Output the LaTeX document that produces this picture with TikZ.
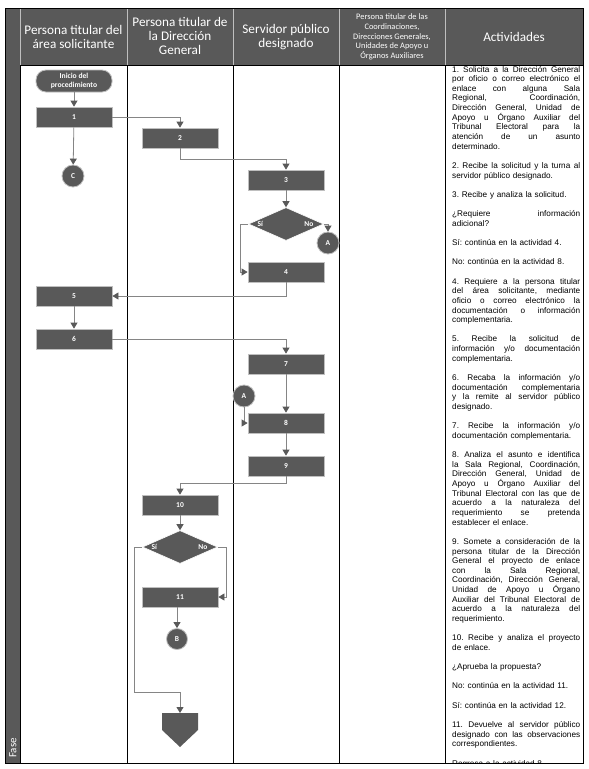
\documentclass[tikz,border=0pt]{standalone}
\usepackage{fontspec}
\setmainfont{Liberation Sans}
\newfontfamily\calfont{Carlito}
\usetikzlibrary{shapes.geometric,arrows.meta,calc}
\definecolor{dg}{HTML}{595959}
\definecolor{lg}{HTML}{BFBFBF}
\definecolor{ln}{HTML}{858585}
\newcommand\J[1]{\leavevmode\hbox to 128pt{\spaceskip=0.278em plus 1fil\xspaceskip=0.278em plus 1fil\relax #1}}
\newcommand\BL{\mbox{}\\}
\frenchspacing
\begin{document}
\begin{tikzpicture}[x=1pt,y=-1pt,
  procbox/.style={draw=lg, fill=dg, line width=0.8pt, minimum width=76pt, minimum height=20pt, inner sep=0pt, text=white, font=\calfont\bfseries\fontsize{7.5}{8}\selectfont},
  startbox/.style={draw=lg, fill=dg, line width=0.8pt, rounded corners=10pt, minimum width=76pt, minimum height=22pt, inner sep=0pt, text=white, align=center, font=\calfont\bfseries\fontsize{7.6}{8.6}\selectfont},
  connbox/.style={circle, draw=lg, fill=dg, line width=0.8pt, minimum size=22pt, inner sep=0pt, text=white, font=\calfont\bfseries\fontsize{7.5}{8}\selectfont},
  decbox/.style={diamond, fill=dg, draw=white, line width=0.6pt, minimum width=75pt, minimum height=33pt, inner sep=0pt},
  declabel/.style={text=white, inner sep=0pt, font=\calfont\bfseries\fontsize{7.5}{8}\selectfont},
  flow/.style={draw=ln, line width=0.8pt, -{Triangle[length=6pt,width=7pt,color=dg]}},
  headtext/.style={text=white, align=center, inner sep=0pt, font=\calfont\fontsize{13.2}{14}\selectfont},
  tablerule/.style={draw=black, line width=0.9pt}
]
\useasboundingbox (0,0) rectangle (589,769);
% table
\fill[dg] (5,8) rectangle (583,65);
\fill[dg] (5,65) rectangle (20,763);
\foreach \xx in {20,127,233,339,445} \draw[lg, line width=0.8pt] (\xx,8) -- (\xx,65);
\draw[tablerule] (20,65) -- (583,65);
\foreach \xx in {20,127,233,339,445} \draw[tablerule] (\xx,65) -- (\xx,763);
\draw[tablerule] (5,8) rectangle (583,763);
% headers
\node[headtext] (h1) at (73.5,37) {Persona titular del\\área solicitante};
\node[headtext] (h2) at (180,36) {Persona titular de\\la Dirección\\General};
\node[headtext] (h3) at (286,37) {Servidor público\\designado};
\node[headtext, font=\calfont\fontsize{8.4}{9.8}\selectfont] (h4) at (392,37) {Persona titular de las\\Coordinaciones,\\Direcciones Generales,\\Unidades de Apoyo u\\Órganos Auxiliares};
\node[headtext] (h5) at (514,37) {Actividades};
\node[text=white, rotate=90, inner sep=0pt, font=\calfont\fontsize{11}{12}\selectfont] (fase) at (13,748) {Fase};
% flow nodes
\node[startbox] (st) at (74,81) {Inicio del\\procedimiento};
\node[procbox] (b1) at (74,117) {1};
\node[procbox] (b2) at (180,138) {2};
\node[connbox] (C) at (73,176) {C};
\node[procbox] (b3) at (286,180) {3};
\node[decbox] (d1) at (286,224) {};
\node[declabel] (d1si) at ($(d1.west)+(12,0)$) {Sí};
\node[declabel] (d1no) at ($(d1.east)+(-15,0)$) {No};
\node[connbox] (A1) at (328,243) {A};
\node[procbox] (b4) at (286,272) {4};
\node[procbox] (b5) at (74,296) {5};
\node[procbox] (b6) at (74,339) {6};
\node[procbox] (b7) at (286,364) {7};
\node[connbox] (A2) at (244,396) {A};
\node[procbox] (b8) at (286,423) {8};
\node[procbox] (b9) at (286,466) {9};
\node[procbox] (b10) at (180,505) {10};
\node[decbox] (d2) at (180,547) {};
\node[declabel] (d2si) at ($(d2.west)+(12,0)$) {Sí};
\node[declabel] (d2no) at ($(d2.east)+(-15,0)$) {No};
\node[procbox] (b11) at (180,597) {11};
\node[connbox, minimum size=21pt] (B) at (177,639) {B};
\coordinate (off) at (180,713);
\fill[dg] (off) ++(-18,0) -- ++(36,0) -- ++(0,17) -- ++(-18,17) -- ++(-18,-17) -- cycle;
% connectors
\draw[flow] (st) -- (b1);
\draw[flow] (b1.east) -| (b2.north);
\draw[flow] (b1) -- (C);
\draw[flow] (b2.south) -- ++(0,11) -| (b3.north);
\draw[flow] (b3) -- (d1);
\draw[flow] (d1.west) -- ++(-8,0) |- (b4.west);
\draw[flow] (d1.east) -| (A1.north);
\draw[flow] (b4.south) |- (b5.east);
\draw[flow] (b5) -- (b6);
\draw[flow] (b6.east) -| (b7.north);
\draw[flow] (b7) -- (b8);
\draw[flow] (A2.south) |- (b8.west);
\draw[flow] (b8) -- (b9);
\draw[flow] (b9.south) -- ++(0,7) -| (b10.north);
\draw[flow] (b10) -- (d2);
\draw[flow] (d2.east) -- ++(9,0) |- (b11.east);
\draw[flow] (B |- b11.south) -- (B);
\draw[flow] (d2.west) -- ++(-8,0) -- ++(0,145) -| (off);
% activities
\begin{scope}
\clip (445,65) rectangle (583,763);
\node[anchor=north west, text width=128pt, align=left, inner sep=0pt, font=\fontsize{8.2}{9.64}\selectfont] (act) at (452,65.8) {%
\J{1. Solicita a la Dirección General}\\
\J{por oficio o correo electrónico el}\\
\J{enlace con alguna Sala}\\
\J{Regional, Coordinación,}\\
\J{Dirección General, Unidad de}\\
\J{Apoyo u Órgano Auxiliar del}\\
\J{Tribunal Electoral para la}\\
\J{atención de un asunto}\\
determinado.\\
\BL
\J{2. Recibe la solicitud y la turna al}\\
servidor público designado.\\
\BL
3. Recibe y analiza la solicitud.\\
\BL
\J{¿Requiere información}\\
adicional?\\
\BL
Sí: continúa en la actividad 4.\\
\BL
No: continúa en la actividad 8.\\
\BL
\J{4. Requiere a la persona titular}\\
\J{del área solicitante, mediante}\\
\J{oficio o correo electrónico la}\\
\J{documentación o información}\\
complementaria.\\
\BL
\J{5. Recibe la solicitud de}\\
\J{información y/o documentación}\\
complementaria.\\
\BL
\J{6. Recaba la información y/o}\\
\J{documentación complementaria}\\
\J{y la remite al servidor público}\\
designado.\\
\BL
\J{7. Recibe la información y/o}\\
documentación complementaria.\\
\BL
\J{8. Analiza el asunto e identifica}\\
\J{la Sala Regional, Coordinación,}\\
\J{Dirección General, Unidad de}\\
\J{Apoyo u Órgano Auxiliar del}\\
\J{Tribunal Electoral con las que de}\\
\J{acuerdo a la naturaleza del}\\
\J{requerimiento se pretenda}\\
establecer el enlace.\\
\BL
\J{9. Somete a consideración de la}\\
\J{persona titular de la Dirección}\\
\J{General el proyecto de enlace}\\
\J{con la Sala Regional,}\\
\J{Coordinación, Dirección General,}\\
\J{Unidad de Apoyo u Órgano}\\
\J{Auxiliar del Tribunal Electoral de}\\
\J{acuerdo a la naturaleza del}\\
requerimiento.\\
\BL
\J{10. Recibe y analiza el proyecto}\\
de enlace.\\
\BL
¿Aprueba la propuesta?\\
\BL
No: continúa en la actividad 11.\\
\BL
Sí: continúa en la actividad 12.\\
\BL
\J{11. Devuelve al servidor público}\\
\J{designado con las observaciones}\\
correspondientes.\\
\BL
Regresa a la actividad 8.};
\end{scope}
\end{tikzpicture}
\end{document}
